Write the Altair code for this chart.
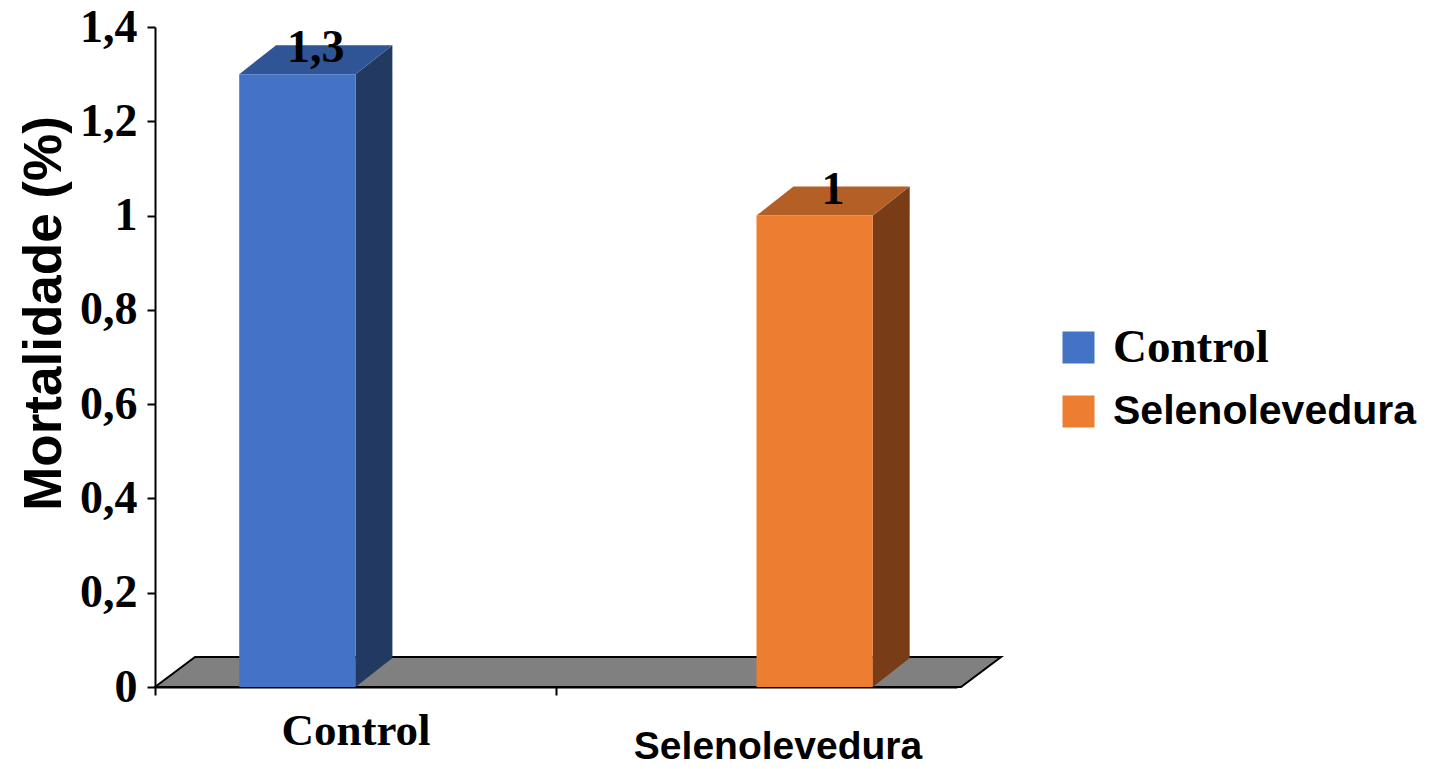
import altair as alt
import pandas as pd

# ---- data ----
categories = ["Control", "Selenolevedura"]
series = ["Control", "Selenolevedura"]
values = [1.3, 1.0]
y_ticks = [0, 0.2, 0.4, 0.6, 0.8, 1.0, 1.2, 1.4]

# ---- style ----
front_colors = ["#4472C4", "#ED7D31"]
top_colors = ["#2F5597", "#B45F25"]
side_colors = ["#223962", "#783C17"]
floor_color = "#808080"

BAR_W = 0.29                 # bar width in category units
DX, DY = 0.092, 0.0615       # 3-D depth of bars (x units, y units)
FLOOR_DX, FLOOR_DY = 0.0998, 0.0636
FLOOR_END = 2.01
W, H = 802, 660

# ---- geometry tables built from the data ----
front_rows, face_rows, label_rows = [], [], []
for i, (cat, ser, v) in enumerate(zip(categories, series, values)):
    j = series.index(ser)
    x0 = i + 0.5 + (j - 1) * BAR_W
    x1 = x0 + BAR_W
    front_rows.append({"series": ser, "x0": x0, "x1": x1, "value": v})
    lab = ("%g" % v).replace(".", ",")
    label_rows.append({"x": (x0 + x1) / 2 + DX / 2, "value": v, "label": lab})
    # top face (parallelogram)
    for k, (xx, ya, yb) in enumerate([(x0, v, v), (x0 + DX, v, v + DY),
                                      (x1, v, v + DY), (x1 + DX, v + DY, v + DY)]):
        face_rows.append({"face": f"top{i}", "k": k, "x": xx, "y": ya, "y2": yb,
                          "fill": top_colors[j], "kind": "top"})
    # side face
    for k, (xx, ya, yb) in enumerate([(x1, 0, v), (x1 + DX, DY, v + DY)]):
        face_rows.append({"face": f"side{i}", "k": k, "x": xx, "y": ya, "y2": yb,
                          "fill": side_colors[j], "kind": "side"})

floor_rows = []
for k, (xx, ya, yb) in enumerate([(0, 0, 0), (FLOOR_DX, 0, FLOOR_DY),
                                  (FLOOR_END, 0, FLOOR_DY),
                                  (FLOOR_END + FLOOR_DX, FLOOR_DY, FLOOR_DY)]):
    floor_rows.append({"face": "floor", "k": k, "x": xx, "y": ya, "y2": yb})

df_front = pd.DataFrame(front_rows)
df_faces = pd.DataFrame(face_rows)
df_floor = pd.DataFrame(floor_rows)
df_labels = pd.DataFrame(label_rows)

xscale = alt.Scale(domain=[0, 2], nice=False, zero=False)
yscale = alt.Scale(domain=[0, 1.4], nice=False)

# floor layer with the tick axis and the y axis
floor = alt.Chart(df_floor).mark_area(
    color=floor_color, stroke="black", strokeWidth=2, fillOpacity=1
).encode(
    x=alt.X("x:Q", scale=xscale, axis=alt.Axis(
        orient="bottom", values=[0, 1], labels=False, title=None, grid=False,
        tickSize=8, tickWidth=2, tickColor="black",
        domainColor="black", domainWidth=2)),
    y=alt.Y("y:Q", scale=yscale, axis=alt.Axis(
        values=y_ticks, format="~g", labelExpr="replace(datum.label, '.', ',')",
        title="Mortalidade (%)", grid=False,
        labelFont="Liberation Serif", labelFontSize=46, labelFontWeight="bold",
        labelColor="black", labelPadding=10,
        tickSize=8, tickWidth=2, tickColor="black",
        domainColor="black", domainWidth=2,
        titleFont="Liberation Sans", titleFontSize=53, titleFontWeight="bold",
        titleColor="black", titlePadding=8, titleY=286)),
    y2="y2:Q",
    detail="face:N",
)

sides = alt.Chart(df_faces).transform_filter("datum.kind == 'side'").mark_area(
    strokeWidth=0, fillOpacity=1
).encode(
    x=alt.X("x:Q", scale=xscale, axis=None),
    y=alt.Y("y:Q", scale=yscale, axis=None),
    y2="y2:Q",
    fill=alt.Fill("fill:N", scale=None),
    detail="face:N",
)

tops = alt.Chart(df_faces).transform_filter("datum.kind == 'top'").mark_area(
    strokeWidth=0, fillOpacity=1
).encode(
    x=alt.X("x:Q", scale=xscale, axis=None),
    y=alt.Y("y:Q", scale=yscale, axis=None),
    y2="y2:Q",
    fill=alt.Fill("fill:N", scale=None),
    detail="face:N",
)

fronts = alt.Chart(df_front).mark_rect(strokeWidth=0).encode(
    x=alt.X("x0:Q", scale=xscale, axis=alt.Axis(
        orient="bottom", values=[0.5], labelExpr="'Control'", title=None,
        domain=False, ticks=False, tickSize=0, grid=False, labelLimit=0,
        labelFont="Liberation Serif", labelFontSize=45, labelFontWeight="bold",
        labelColor="black", labelBaseline="alphabetic", labelPadding=57)),
    x2="x1:Q",
    y=alt.Y("value:Q", scale=yscale, axis=None),
    y2=alt.Y2(datum=0),
    color=alt.Color("series:N", scale=alt.Scale(domain=series, range=front_colors),
                    legend=alt.Legend(
                        title=None, orient="none", legendX=903, legendY=300,
                        padding=0, symbolType="square", symbolSize=1024,
                        symbolStrokeWidth=0, labelOffset=14, rowPadding=19,
                        labelExpr="datum.value == 'Control' ? datum.label : '\u00a0' + datum.label",
                        labelFont={"expr": "datum.value == 'Control' ? 'Liberation Serif' : 'Liberation Sans'"},
                        labelFontSize={"expr": "datum.value == 'Control' ? 47 : 41"},
                        labelFontWeight="bold", labelColor="black", labelLimit=0)),
)

texts = alt.Chart(df_labels).mark_text(
    font="Liberation Serif", fontSize=46, fontWeight="bold", color="black",
    baseline="alphabetic", dy=-12
).encode(
    x=alt.X("x:Q", scale=xscale, axis=alt.Axis(
        orient="bottom", values=[1.5], labelExpr="'Selenolevedura'", title=None,
        domain=False, ticks=False, tickSize=0, grid=False, labelLimit=0,
        labelFont="Liberation Sans", labelFontSize=39, labelFontWeight="bold",
        labelColor="black", labelBaseline="alphabetic", labelPadding=71,
        labelOffset=21)),
    y=alt.Y("value:Q", scale=yscale, axis=None),
    text="label:N",
)

chart = alt.layer(floor, sides, tops, fronts, texts).resolve_axis(
    x="independent", y="independent"
).properties(
    width=W, height=H,
    autosize=alt.AutoSizeParams(type="none"),
    padding={"left": 147, "top": 19, "right": 466, "bottom": 73},
).configure_view(stroke=None)

chart.save("out.html", embed_options={"renderer": "svg", "actions": False})
